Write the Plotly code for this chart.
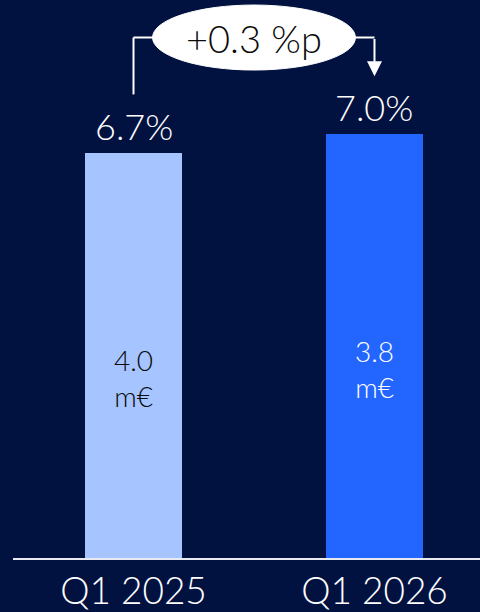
import plotly.graph_objects as go

# Quarterly data
quarters = ["Q1 2025", "Q1 2026"]
margin_pct = [6.7, 7.0]          # bar heights (%)
amount_meur = [4.0, 3.8]         # amounts shown inside the bars (m€)

bar_colors = ["#A6C4FF", "#2266FF"]
inner_text_colors = ["#0A0A0A", "#FFFFFF"]
BG = "#021240"
FONT = "Lato"
W = 300  # light weight

delta = margin_pct[1] - margin_pct[0]

fig = go.Figure()
fig.add_trace(go.Bar(
    x=list(range(len(quarters))),
    y=margin_pct,
    width=0.4025,
    marker=dict(color=bar_colors, line=dict(width=0)),
    hoverinfo="skip",
))

annotations = []
for i, (p, a) in enumerate(zip(margin_pct, amount_meur)):
    annotations.append(dict(
        x=i, y=p, xref="x", yref="y", text=f"{p:.1f}%", showarrow=False,
        yanchor="middle", yshift=27,
        font=dict(family=FONT, size=36, color="white", weight=W),
    ))
    annotations.append(dict(
        x=i, y=p / 2, xref="x", yref="y", text=f"{a:.1f}<br>m€", showarrow=False,
        yanchor="middle", yshift=-23,
        font=dict(family=FONT, size=28, color=inner_text_colors[i], weight=W),
    ))

# connector level and gap above bars
conn_y = 8.6
gap = 0.96

shapes = [
    # horizontal connector between the bars
    dict(type="line", xref="x", yref="y", x0=0, x1=1, y0=conn_y, y1=conn_y,
         line=dict(color="white", width=2), layer="above"),
    # left vertical leg
    dict(type="line", xref="x", yref="y", x0=0, x1=0, y0=margin_pct[0] + gap, y1=conn_y,
         line=dict(color="white", width=2), layer="above"),
    # ellipse holding the change label
    dict(type="circle", xref="x", yref="y", x0=0.5 - 0.421, x1=0.5 + 0.421,
         y0=conn_y - 0.537, y1=conn_y + 0.537,
         fillcolor="white", line=dict(color="white", width=1), layer="above"),
]

# right leg with arrowhead
annotations.append(dict(
    x=1, y=margin_pct[1] + gap, xref="x", yref="y",
    ax=1, ay=conn_y, axref="x", ayref="y",
    text="", showarrow=True, arrowhead=2, arrowsize=1.5, arrowwidth=2,
    arrowcolor="white", standoff=0, startstandoff=0,
))
annotations.append(dict(
    x=0.5, y=conn_y, xref="x", yref="y", text=f"+{delta:.1f} %p", showarrow=False,
    font=dict(family=FONT, size=38, color="#0A0A0A", weight=W),
))

fig.update_layout(
    width=480, height=612,
    margin=dict(l=13, r=0, t=0, b=54),
    paper_bgcolor=BG, plot_bgcolor=BG,
    showlegend=False,
    bargap=0,
    shapes=shapes,
    annotations=annotations,
    xaxis=dict(
        tickmode="array", tickvals=list(range(len(quarters))), ticktext=quarters,
        range=[-0.5, 1.4378], showgrid=False, zeroline=False,
        showline=True, linecolor="#E8EAF0", linewidth=2,
        ticks="", tickfont=dict(family=FONT, size=37, color="white", weight=W),
        fixedrange=True,
    ),
    yaxis=dict(range=[0, 9.22], visible=False, fixedrange=True),
)

fig.write_html("out.html", config={"displayModeBar": False})
